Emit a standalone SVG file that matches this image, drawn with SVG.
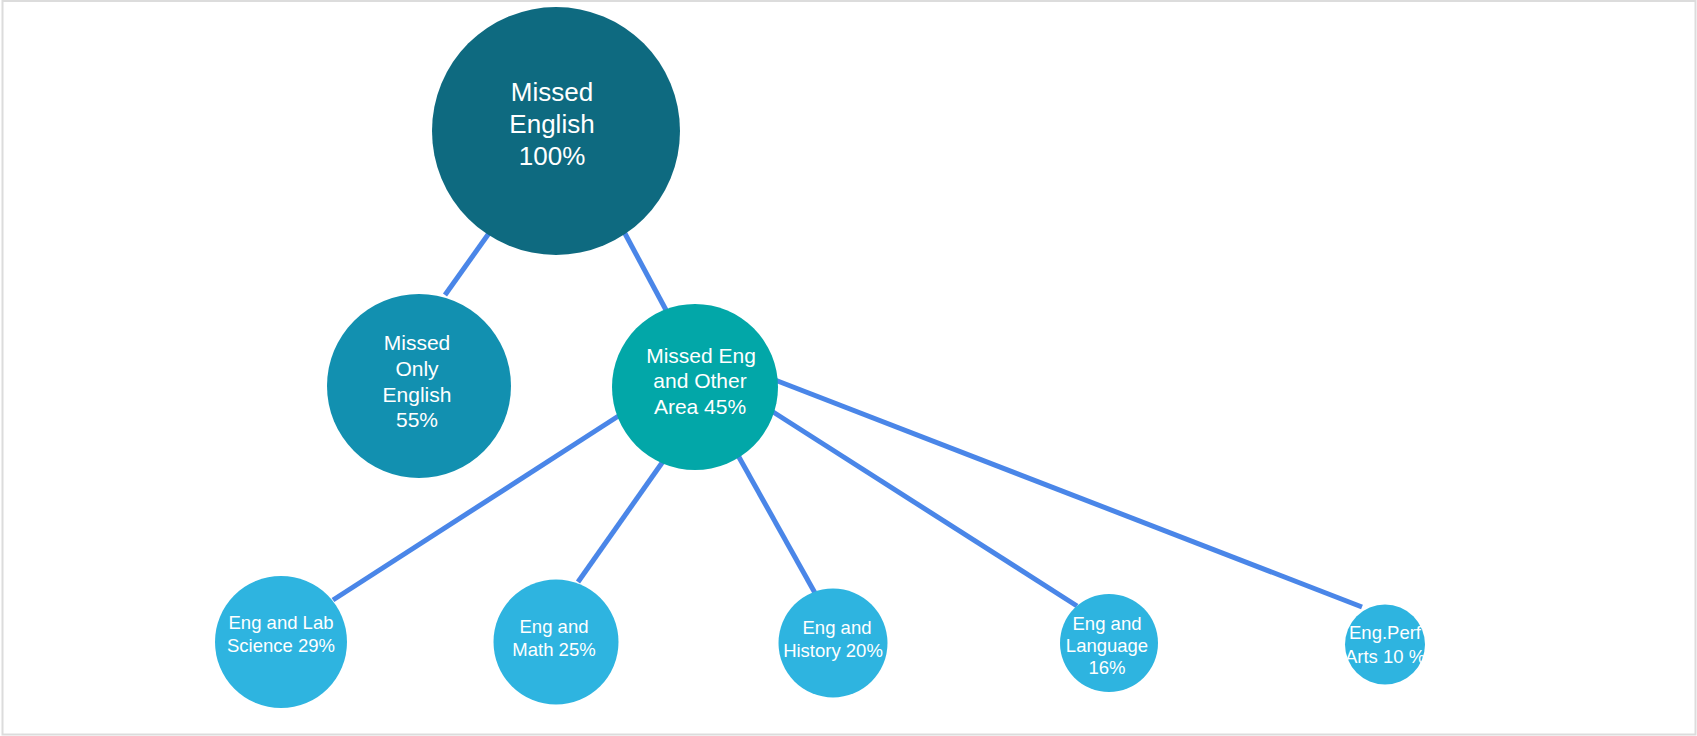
<svg xmlns="http://www.w3.org/2000/svg" width="1697" height="736" viewBox="0 0 1697 736">
<style>
.edge{stroke:#4a86e8;stroke-width:5;fill:none}
.t{font-family:"Liberation Sans",Arial,sans-serif;fill:#ffffff;text-anchor:middle}
.big{font-size:26px}
.mid{font-size:21px}
.sm{font-size:18.5px}
</style>
<rect x="2.5" y="1" width="1693" height="733.5" fill="#ffffff" stroke="#dcdcdc" stroke-width="2"/>
<g id="connectors">
<line class="edge" x1="492" y1="229" x2="445" y2="295"/>
<line class="edge" x1="622" y1="228" x2="666" y2="310"/>
<line class="edge" x1="620" y1="415" x2="333" y2="600"/>
<line class="edge" x1="664" y1="460" x2="578" y2="582"/>
<line class="edge" x1="735" y1="450" x2="815" y2="593"/>
<line class="edge" x1="770" y1="410" x2="1077" y2="606"/>
<line class="edge" x1="775" y1="380" x2="1362" y2="607"/>
</g>
<g id="n-missed-english">
<circle cx="556" cy="131" r="124" fill="#0e6a80"/>
<text class="t big" x="552" y="101">Missed</text>
<text class="t big" x="552" y="133">English</text>
<text class="t big" x="552" y="165">100%</text>
</g>
<g id="n-missed-only">
<circle cx="419" cy="386" r="92" fill="#1290b0"/>
<text class="t mid" x="417" y="350">Missed</text>
<text class="t mid" x="417" y="376">Only</text>
<text class="t mid" x="417" y="402">English</text>
<text class="t mid" x="417" y="427">55%</text>
</g>
<g id="n-missed-eng-other">
<circle cx="695" cy="387" r="83" fill="#02a7a8"/>
<text class="t mid" x="701" y="363">Missed Eng</text>
<text class="t mid" x="700" y="388">and Other</text>
<text class="t mid" x="700" y="414">Area 45%</text>
</g>
<g id="n-lab-science">
<circle cx="281" cy="642" r="66" fill="#2eb4e0"/>
<text class="t sm" x="281" y="629">Eng and Lab</text>
<text class="t sm" x="281" y="652">Science 29%</text>
</g>
<g id="n-math">
<circle cx="556" cy="642" r="62.5" fill="#2eb4e0"/>
<text class="t sm" x="554" y="633">Eng and</text>
<text class="t sm" x="554" y="656">Math 25%</text>
</g>
<g id="n-history">
<circle cx="833" cy="643" r="54.5" fill="#2eb4e0"/>
<text class="t sm" x="837" y="634">Eng and</text>
<text class="t sm" x="833" y="657">History 20%</text>
</g>
<g id="n-language">
<circle cx="1109" cy="643" r="49" fill="#2eb4e0"/>
<text class="t sm" x="1107" y="630">Eng and</text>
<text class="t sm" x="1107" y="652">Language</text>
<text class="t sm" x="1107" y="674">16%</text>
</g>
<g id="n-perf-arts">
<circle cx="1385" cy="644.5" r="40" fill="#2eb4e0"/>
<text class="t sm" x="1385" y="639">Eng.Perf</text>
<text class="t sm" x="1385" y="663">Arts 10 %</text>
</g>
</svg>
